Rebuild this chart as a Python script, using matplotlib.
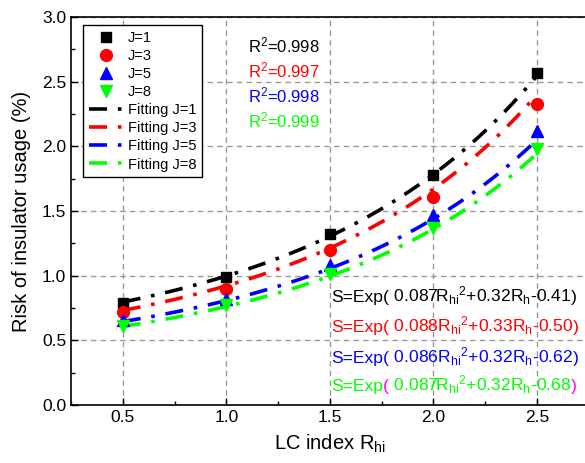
import numpy as np
import matplotlib
matplotlib.use("Agg")
import matplotlib.pyplot as plt
from matplotlib.ticker import MultipleLocator

plt.rcParams['font.family'] = ['Liberation Sans', 'DejaVu Sans']
plt.rcParams['mathtext.fontset'] = 'custom'
plt.rcParams['mathtext.rm'] = 'Liberation Sans'
plt.rcParams['mathtext.it'] = 'Liberation Sans:italic'
plt.rcParams['mathtext.bf'] = 'Liberation Sans:bold'

# ---- data ----
lc_index = [0.5, 1.0, 1.5, 2.0, 2.5]
risk_j1 = [0.79, 0.99, 1.32, 1.78, 2.57]
risk_j3 = [0.72, 0.90, 1.20, 1.61, 2.33]
risk_j5 = [0.66, 0.82, 1.08, 1.47, 2.12]
risk_j8 = [0.61, 0.77, 1.01, 1.37, 1.98]
series_labels = ["J=1", "J=3", "J=5", "J=8"]
fit_labels = ["Fitting J=1", "Fitting J=3", "Fitting J=5", "Fitting J=8"]
# fitted coefficients  S = exp(a*R^2 + b*R + c)
fit_a = [0.087, 0.088, 0.086, 0.087]
fit_b = [0.32, 0.33, 0.32, 0.32]
fit_c = [-0.41, -0.50, -0.62, -0.68]
r2_values = ["0.998", "0.997", "0.998", "0.999"]

colors = ['#000000', '#ff0000', '#0000ff', '#00ff00']
markers = ['s', 'o', '^', 'v']
msizes = [7.5, 8.5, 9, 9]
series = [risk_j1, risk_j3, risk_j5, risk_j8]

fig = plt.figure(figsize=(5.85, 4.63), dpi=100)
ax = fig.add_axes([71/585, 58/463, 517.5/585, 388/463])

ax.set_xlim(0.25, 2.75)
ax.set_ylim(0.0, 3.0)
ax.xaxis.set_major_locator(MultipleLocator(0.5))
ax.xaxis.set_minor_locator(MultipleLocator(0.25))
ax.yaxis.set_major_locator(MultipleLocator(0.5))
ax.yaxis.set_minor_locator(MultipleLocator(0.25))
ax.tick_params(which='both', direction='in', labelsize=12.5, width=1)
ax.tick_params(which='major', length=5)
ax.tick_params(which='minor', length=3)
ax.set_xticks([0.5, 1.0, 1.5, 2.0, 2.5])
ax.set_xticklabels(['0.5', '1.0', '1.5', '2.0', '2.5'])
for s in ax.spines.values():
    s.set_linewidth(1.2)
ax.grid(True, which='major', color='#999999', linestyle=(0, (4, 3)), linewidth=1)
ax.set_axisbelow(True)

handles_pts = []
handles_fit = []
xs = np.linspace(lc_index[0], lc_index[-1], 200)
for i in range(4):
    h, = ax.plot(lc_index, series[i], linestyle='none', marker=markers[i],
                 ms=msizes[i], color=colors[i], label=series_labels[i], zorder=4)
    handles_pts.append(h)
for i in range(4):
    ys = np.exp(fit_a[i] * xs**2 + fit_b[i] * xs + fit_c[i])
    h, = ax.plot(xs, ys, linestyle=(0, (5, 3, 1, 3)), lw=2.6, color=colors[i],
                 label=fit_labels[i], zorder=3)
    handles_fit.append(h)

leg = ax.legend(handles=handles_pts + handles_fit, loc='upper left',
                bbox_to_anchor=(0.023, 0.979), borderaxespad=0, fontsize=10.5,
                fancybox=False, framealpha=1, edgecolor='black',
                handlelength=2.3, labelspacing=0.28, handletextpad=0.4,
                borderpad=0.4)
leg.get_frame().set_linewidth(1.0)

ax.set_xlabel(r'LC index R$_{\mathrm{hi}}$', fontsize=14.5, labelpad=6)
ax.set_ylabel('Risk of insulator usage (%)', fontsize=14.5, labelpad=8)

# R^2 annotations
r2_y = [2.729, 2.536, 2.343, 2.149]
for i in range(4):
    ax.text(1.105, r2_y[i], r'R$^{\mathrm{2}}$=' + r2_values[i], color=colors[i],
            fontsize=12, va='baseline', ha='left')

# Formula annotations
form_y = [0.795, 0.563, 0.325, 0.107]
fig.canvas.draw()
renderer = fig.canvas.get_renderer()
for i in range(4):
    body = (r' %.3fR$_{\mathrm{hi}}$$^{\mathrm{2}}$+%.2fR$_{\mathrm{h}}$-%.2f'
            % (fit_a[i], fit_b[i], -fit_c[i]))
    pc = '#ff00ff' if i == 3 else colors[i]
    pieces = [("S=Exp", colors[i]), ("(", pc), (body, colors[i]), (")", pc)]
    prev = None
    for txt, col in pieces:
        if prev is None:
            prev = ax.text(1.506, form_y[i], txt, color=col, fontsize=12.6,
                           va='baseline', ha='left')
        else:
            prev = ax.annotate(txt, xy=(1, form_y[i]), xycoords=(prev, 'data'),
                               color=col, fontsize=12.6, va='baseline', ha='left')
        prev.draw(renderer)

fig.savefig('out.png', dpi=100)
